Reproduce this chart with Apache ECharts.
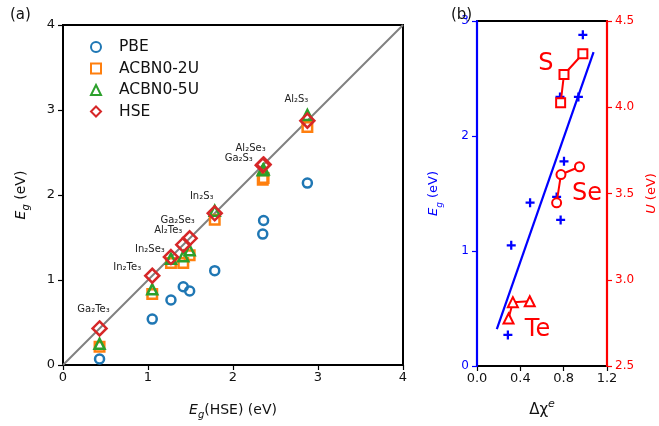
<!DOCTYPE html>
<html>
<head>
<meta charset="utf-8">
<script src="https://cdn.jsdelivr.net/npm/echarts@6/dist/echarts.min.js"></script>
<style>
  html, body { margin: 0; padding: 0; background: #fff; }
  #main { width: 659px; height: 426px; }
</style>
</head>
<body>
<div id="main"></div>
<script>
// panel (a): band gaps vs HSE gap
var compounds = ['Ga₂Te₃', 'In₂Te₃', 'In₂Se₃', 'Al₂Te₃', 'Ga₂Se₃', 'In₂S₃', 'Ga₂S₃', 'Al₂Se₃', 'Al₂S₃'];
var hseGap = [0.43, 1.05, 1.27, 1.415, 1.49, 1.785, 2.35, 2.36, 2.875];
var pbeGap = [0.07, 0.54, 0.765, 0.92, 0.87, 1.11, 1.54, 1.70, 2.14];
var acbn2U = [0.215, 0.835, 1.20, 1.20, 1.29, 1.71, 2.18, 2.20, 2.80];
var acbn5U = [0.25, 0.89, 1.25, 1.28, 1.35, 1.815, 2.29, 2.30, 2.94];
var diagX = [0, 4];

// panel (b): gap and U vs electronegativity difference
var dChi = [0.285, 0.316, 0.49, 0.735, 0.772, 0.766, 0.803, 0.936, 0.977];
var egB = [0.27, 1.05, 1.42, 1.47, 1.27, 2.34, 1.78, 2.34, 2.88];
var fitX = [0.183, 1.076];
var fitY = [0.32, 2.73];
var sChi = [0.772, 0.803, 0.977];
var sU = [4.026, 4.19, 4.31];
var seChi = [0.735, 0.775, 0.946];
var seU = [3.446, 3.61, 3.655];
var teChi = [0.291, 0.331, 0.487];
var teU = [2.775, 2.87, 2.875];

// label offsets (pixels) for compound names around the HSE diamonds
var labelOffsets = [[-6, -19], [-25, -8], [-21, -8], [-15, -14], [-12, -18], [-13, -17], [-24, -7], [-13, -16], [-11, -21]];

var FONT = 'DejaVu Sans';
var BLUE = '#1f77b4', ORANGE = '#ff7f0e', GREEN = '#2ca02c', RED = '#d62728';

function pairs(xs, ys) {
    return xs.map(function(x, i) { return [x, ys[i]]; });
}

function hollow(color) {
    return { color: 'rgba(0,0,0,0)', borderColor: color, borderWidth: 2.5, opacity: 1 };
}

var subRich = {
    i: { fontStyle: 'italic', fontSize: 14, lineHeight: 20, fontFamily: FONT },
    s: { fontStyle: 'italic', fontSize: 10, lineHeight: 13, verticalAlign: 'bottom', fontFamily: FONT }
};

var chart = echarts.init(document.getElementById('main'));

var option = {
    backgroundColor: '#fff',
    animation: false,
    textStyle: { fontFamily: FONT },
    title: [
        { text: '(a)', left: 5, top: 3, textStyle: { fontSize: 15, fontWeight: 'normal', color: '#111', fontFamily: FONT } },
        { text: '(b)', left: 446, top: 3, textStyle: { fontSize: 15, fontWeight: 'normal', color: '#111', fontFamily: FONT } }
    ],
    legend: {
        data: ['PBE', 'ACBN0-2U', 'ACBN0-5U', 'HSE'],
        orient: 'vertical',
        left: 85,
        top: 34,
        itemWidth: 10,
        itemHeight: 10,
        itemGap: 5.5,
        textStyle: { fontSize: 15.5, color: '#111', fontFamily: FONT, padding: [0, 0, 0, 13] }
    },
    grid: [
        { left: 63, right: 256, top: 25, bottom: 61, show: true, borderColor: '#000', borderWidth: 2 },
        { left: 477, right: 52, top: 21, bottom: 60, show: true, borderColor: '#000', borderWidth: 2 }
    ],
    xAxis: [
        {
            gridIndex: 0, type: 'value', min: 0, max: 4, interval: 1,
            name: '{i|E}{s|g}(HSE) (eV)', nameLocation: 'middle', nameGap: 35,
            nameTextStyle: { fontSize: 14, color: '#111', lineHeight: 20, rich: subRich },
            axisLine: { lineStyle: { color: '#000', width: 2 } },
            axisTick: { length: 5, lineStyle: { color: '#000', width: 1.2 } },
            axisLabel: { fontSize: 13, color: '#111', margin: 6 },
            splitLine: { show: false }
        },
        {
            gridIndex: 1, type: 'value', min: 0, max: 1.2, interval: 0.4,
            name: '{n|Δχ}{e|e}', nameLocation: 'middle', nameGap: 33,
            nameTextStyle: {
                color: '#111',
                rich: {
                    n: { fontSize: 15, lineHeight: 22, color: '#111', fontFamily: FONT },
                    e: { fontSize: 11, lineHeight: 12, fontStyle: 'italic', verticalAlign: 'top', color: '#111', fontFamily: FONT }
                }
            },
            axisLine: { lineStyle: { color: '#000', width: 2 } },
            axisTick: { length: 5, lineStyle: { color: '#000', width: 1.2 } },
            axisLabel: { fontSize: 13, color: '#111', margin: 6, formatter: function(v) { return v.toFixed(1); } },
            splitLine: { show: false }
        }
    ],
    yAxis: [
        {
            gridIndex: 0, type: 'value', min: 0, max: 4, interval: 1,
            name: '{i|E}{s|g} (eV)', nameLocation: 'middle', nameGap: 32,
            nameTextStyle: { fontSize: 14, color: '#111', lineHeight: 20, rich: subRich },
            axisLine: { lineStyle: { color: '#000', width: 2 } },
            axisTick: { length: 5, lineStyle: { color: '#000', width: 1.2 } },
            axisLabel: { fontSize: 13, color: '#111', margin: 8 },
            splitLine: { show: false }
        },
        {
            gridIndex: 1, type: 'value', min: 0, max: 3, interval: 1, position: 'left', z: 5,
            name: '{i|E}{s|g} (eV)', nameLocation: 'middle', nameGap: 33,
            nameTextStyle: {
                fontSize: 13, color: '#0000ff', lineHeight: 20,
                rich: {
                    i: { fontStyle: 'italic', fontSize: 13, lineHeight: 20, color: '#0000ff', fontFamily: FONT },
                    s: { fontStyle: 'italic', fontSize: 9, lineHeight: 12, verticalAlign: 'bottom', color: '#0000ff', fontFamily: FONT }
                }
            },
            axisLine: { lineStyle: { color: '#0000ff', width: 2.2 } },
            axisTick: { length: 5, lineStyle: { color: '#0000ff', width: 1.2 } },
            axisLabel: { fontSize: 12, color: '#0000ff', margin: 8 },
            splitLine: { show: false }
        },
        {
            gridIndex: 1, type: 'value', min: 2.5, max: 4.5, interval: 0.5, position: 'right', z: 5,
            name: '{i|U} (eV)', nameLocation: 'middle', nameGap: 38,
            nameTextStyle: {
                fontSize: 13, color: '#ff0000',
                rich: { i: { fontStyle: 'italic', fontSize: 13, color: '#ff0000', fontFamily: FONT } }
            },
            axisLine: { lineStyle: { color: '#ff0000', width: 2.2 } },
            axisTick: { length: 5, lineStyle: { color: '#ff0000', width: 1.2 } },
            axisLabel: { fontSize: 12, color: '#ff0000', margin: 8, formatter: function(v) { return v.toFixed(1); } },
            splitLine: { show: false }
        }
    ],
    series: [
        {
            name: 'diag', type: 'line', xAxisIndex: 0, yAxisIndex: 0,
            data: pairs(diagX, diagX), symbol: 'none', silent: true, z: 1,
            lineStyle: { color: '#808080', width: 2 }
        },
        {
            name: 'PBE', type: 'scatter', xAxisIndex: 0, yAxisIndex: 0,
            data: pairs(hseGap, pbeGap), symbol: 'circle', symbolSize: 9,
            itemStyle: hollow(BLUE)
        },
        {
            name: 'ACBN0-2U', type: 'scatter', xAxisIndex: 0, yAxisIndex: 0,
            data: pairs(hseGap, acbn2U), symbol: 'rect', symbolSize: 9.5,
            itemStyle: hollow(ORANGE)
        },
        {
            name: 'ACBN0-5U', type: 'scatter', xAxisIndex: 0, yAxisIndex: 0,
            data: pairs(hseGap, acbn5U), symbol: 'triangle', symbolSize: 10,
            itemStyle: hollow(GREEN)
        },
        {
            name: 'HSE', type: 'scatter', xAxisIndex: 0, yAxisIndex: 0,
            symbol: 'diamond', symbolSize: 14,
            itemStyle: hollow(RED),
            label: { show: true, position: 'inside', fontSize: 10, color: '#222', formatter: '{b}' },
            data: hseGap.map(function(x, i) {
                return { name: compounds[i], value: [x, x], label: { offset: labelOffsets[i] } };
            })
        },
        {
            name: 'fit', type: 'line', xAxisIndex: 1, yAxisIndex: 1,
            data: pairs(fitX, fitY), symbol: 'none', z: 2,
            lineStyle: { color: '#0000ff', width: 2.2 }
        },
        {
            name: 'eg', type: 'scatter', xAxisIndex: 1, yAxisIndex: 1,
            data: pairs(dChi, egB), symbol: 'path://M3,0H5V3H8V5H5V8H3V5H0V3H3Z', symbolSize: 9,
            itemStyle: { color: '#0000ff', opacity: 1 }
        },
        {
            name: 'S', type: 'line', xAxisIndex: 1, yAxisIndex: 2,
            symbol: 'rect', symbolSize: 9, z: 3,
            lineStyle: { color: '#ff0000', width: 2 },
            itemStyle: { color: '#fff', borderColor: '#ff0000', borderWidth: 2 },
            data: sChi.map(function(x, i) {
                var d = { value: [x, sU[i]] };
                if (i === 1) d.label = { show: true, formatter: 'S', position: 'inside', offset: [-18, -11], fontSize: 24, color: '#ff0000' };
                return d;
            })
        },
        {
            name: 'Se', type: 'line', xAxisIndex: 1, yAxisIndex: 2,
            symbol: 'circle', symbolSize: 9, z: 3,
            lineStyle: { color: '#ff0000', width: 2 },
            itemStyle: { color: '#fff', borderColor: '#ff0000', borderWidth: 2 },
            data: seChi.map(function(x, i) {
                var d = { value: [x, seU[i]] };
                if (i === 1) d.label = { show: true, formatter: 'Se', position: 'inside', offset: [26, 19], fontSize: 24, color: '#ff0000' };
                return d;
            })
        },
        {
            name: 'Te', type: 'line', xAxisIndex: 1, yAxisIndex: 2,
            symbol: 'triangle', symbolSize: 10, z: 3,
            lineStyle: { color: '#ff0000', width: 2 },
            itemStyle: { color: '#fff', borderColor: '#ff0000', borderWidth: 2 },
            data: teChi.map(function(x, i) {
                var d = { value: [x, teU[i]] };
                if (i === 0) d.label = { show: true, formatter: 'Te', position: 'inside', offset: [29, 11], fontSize: 24, color: '#ff0000' };
                return d;
            })
        }
    ]
};

chart.setOption(option);
</script>
</body>
</html>
